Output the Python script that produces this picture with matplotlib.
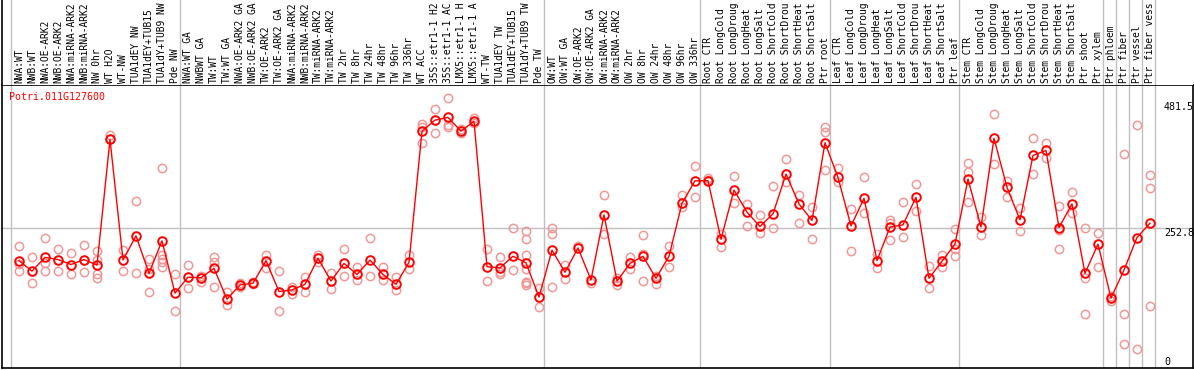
import matplotlib
matplotlib.use("Agg")
import matplotlib.pyplot as plt

plt.rcParams['font.family'] = ['DejaVu Sans Mono']

gene = "Potri.011G127600"

# sample names as they show in the header (cut to 14 characters like the original)
labels = [
    "NWA:WT", "NWB:WT", "NWA:OE-ARK2", "NWB:OE-ARK2", "NWA:miRNA-ARK2", "NWB:miRNA-ARK2",
    "NW 0hr", "WT H2O", "WT-NW", "TUA1dEY NW", "TUA1dEY+TUB15", "TUA1dY+TUB9 NW", "Pde NW",
    "NWA:WT GA", "NWBWT GA", "TW:WT", "TW:WT GA", "NWA:OE-ARK2 GA", "NWB:OE-ARK2 GA",
    "TW:OE-ARK2", "TW:OE-ARK2 GA", "NWA:miRNA-ARK2", "NWB:miRNA-ARK2", "TW:miRNA-ARK2",
    "TW:miRNA-ARK2", "TW 2hr", "TW 8hr", "TW 24hr", "TW 48hr", "TW 96hr", "TW 336hr",
    "WT ACC", "35S::etr1-1 H2", "35S::etr1-1 AC", "LMX5::etr1-1 H", "LMX5::etr1-1 A",
    "WT-TW", "TUA1dEY TW", "TUA1dEY+TUB15", "TUA1dY+TUB9 TW", "Pde TW",
    "OW:WT", "OW:WT GA", "OW:OE-ARK2", "OW:OE-ARK2 GA", "OW:miRNA-ARK2", "OW:miRNA-ARK2",
    "OW 2hr", "OW 8hr", "OW 24hr", "OW 48hr", "OW 96hr", "OW 336hr",
    "Root CTR", "Root LongCold", "Root LongDroug", "Root LongHeat", "Root LongSalt",
    "Root ShortCold", "Root ShortDrou", "Root ShortHeat", "Root ShortSalt", "Ptr root",
    "Leaf CTR", "Leaf LongCold", "Leaf LongDroug", "Leaf LongHeat", "Leaf LongSalt",
    "Leaf ShortCold", "Leaf ShortDrou", "Leaf ShortHeat", "Leaf ShortSalt", "Ptr leaf",
    "Stem CTR", "Stem LongCold", "Stem LongDroug", "Stem LongHeat", "Stem LongSalt",
    "Stem ShortCold", "Stem ShortDrou", "Stem ShortHeat", "Stem ShortSalt", "Ptr shoot",
    "Ptr xylem", "Ptr phloem", "Ptr fiber", "Ptr vessel", "Ptr fiber vess",
]

# group boundaries (sample index where a new group starts)
groups = [0, 13, 41, 53, 63, 73, 84, 85, 86, 87, 88]

means = [193, 174, 199, 195, 186, 195, 185, 413, 194, 238, 170, 229, 134,
         163, 162, 179, 123, 149, 152, 193, 137, 140, 150, 197, 156, 188, 168,
         194, 168, 150, 190, 428, 448, 453, 428, 446, 182, 180, 201, 189, 127,
         212, 172, 216, 158, 276, 156, 188, 201, 161, 201, 297, 338,
         338, 232, 321, 281, 255, 278, 350, 296, 266, 407,
         344, 256, 306, 193, 254, 258, 308, 161, 192, 223,
         341, 254, 415, 326, 267, 384, 393, 253, 296, 170, 223,
         125, 176, 235, 261]

reps = [
    [219, 187, 175], [199, 152], [234, 188, 175], [214, 174], [206, 168], [221, 172],
    [210, 195, 169, 161], [421, 413], [212, 175], [302, 170], [196, 137, 178],
    [361, 203, 196, 190, 182], [168, 101],
    [185, 143], [165, 154], [200, 190, 145], [137, 112], [152, 145], [154, 150],
    [204, 180], [174, 101], [145, 132], [163, 137], [203, 190], [170, 141],
    [214, 165], [182, 157], [234, 165], [182, 157], [163, 139], [203, 178],
    [441, 406, 436], [468, 425], [488, 439, 436], [432, 424], [452, 443],
    [215, 156], [199, 172, 168], [252, 176], [247, 232, 203, 178, 155, 152, 149], [144, 109],
    [253, 241, 145], [186, 159], [219], [152], [312, 241], [162, 149], [199, 177],
    [240, 156, 205], [165, 151], [220, 181], [312, 291], [365, 308],
    [343, 340], [241, 217], [347, 298], [295, 255], [275, 243], [328, 253],
    [377, 336], [313, 261], [291, 232], [436, 427, 357],
    [362, 335], [287, 211], [345, 279], [205, 180], [267, 262, 230], [299, 236],
    [333, 284], [183, 143], [203, 181], [251, 214, 202],
    [370, 353, 300], [273, 240], [459, 368], [338, 308], [289, 247], [415, 350],
    [406, 380], [293, 215, 248], [318, 279], [253, 161, 96], [243, 181],
    [129, 120], [386, 97, 42], [439, 32], [348, 324, 110],
]

ymax = 481.5
ymid = 252.8

W, H = 1194, 370
fig = plt.figure(figsize=(W / 100, H / 100), dpi=100)

# pixel geometry
left_px, right_px = 2, 1193
top_px, bot_px = 85, 368
x0_px, step_px = 19, 13
xl = ((left_px - x0_px) / step_px, (right_px - x0_px) / step_px)
pxv = 0.551
zero_px = 367
yl = ((zero_px - bot_px) / pxv, (zero_px - top_px) / pxv)

ax = fig.add_axes([left_px / W, (H - bot_px) / H, (right_px - left_px) / W, (bot_px - top_px) / H])
hx = fig.add_axes([left_px / W, (H - top_px) / H, (right_px - left_px) / W, top_px / H])

for a in (ax, hx):
    a.set_xlim(*xl)
    a.set_xticks([])
    a.set_yticks([])
    for g in groups:
        a.axvline(g - 8.5 / 13, color='#c0c0c0', lw=1, zorder=0)

ax.set_ylim(*yl)
hx.set_ylim(0, top_px)

ax.axhline(ymid, color='#c0c0c0', lw=1, zorder=0)

for s in ax.spines.values():
    s.set_color('black')
    s.set_linewidth(1.2)

for s in ['top', 'right', 'bottom']:
    hx.spines[s].set_visible(False)
hx.spines['left'].set_color('black')
hx.spines['left'].set_linewidth(1.2)

# replicate values
for i, r in enumerate(reps):
    ax.plot([i] * len(r), r, 'o', ms=6, mfc='none', mec='#f09898', mew=1.1, zorder=2)

# means
xs = list(range(len(means)))
ax.plot(xs, means, '-', color='red', lw=1, zorder=3)
ax.plot(xs, means, 'o', ms=6.2, mfc='none', mec='red', mew=1.4, zorder=4)

# header labels
for i, lab in enumerate(labels):
    hx.text(i, 2, lab, rotation=90, ha='center', va='bottom', fontsize=6.9, color='black')

ax.text((9 - left_px) / (right_px - left_px), (bot_px - 97) / (bot_px - top_px), gene,
        transform=ax.transAxes, color='red', fontsize=7.2, ha='left', va='center')

# right value labels
fig.text(1164 / W, (H - 102) / H, "%.1f" % ymax, fontsize=7.2, ha='left', va='top')
fig.text(1164 / W, (H - 228) / H, "%.1f" % ymid, fontsize=7.2, ha='left', va='top')
fig.text(1164 / W, (H - 362) / H, "0", fontsize=7.2, ha='left', va='center')

plt.savefig("out.png", dpi=100)
